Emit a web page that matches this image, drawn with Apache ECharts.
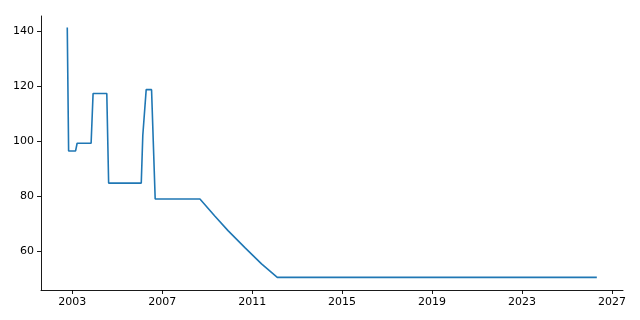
<!DOCTYPE html>
<html>
<head>
<meta charset="utf-8">
<script src="https://cdn.jsdelivr.net/npm/echarts@6/dist/echarts.min.js"></script>
<style>
html,body{margin:0;padding:0;background:#fff;}
#chart{width:640px;height:320px;}
</style>
</head>
<body>
<div id="chart"></div>
<script>
// Data (breakpoints of the line)
var dates = ['2002-10-12','2002-11-03','2003-02-24','2003-03-21','2003-11-03','2003-12-05',
             '2004-07-15','2004-08-14','2006-01-26','2006-02-20','2006-03-21','2006-04-16',
             '2006-07-12','2006-09-09','2008-09-05','2009-05-04','2009-12-05','2010-09-05',
             '2011-06-02','2012-02-13','2026-04-30'];
var values = [141.3, 96.4, 96.4, 99.2, 99.2, 117.3,
              117.3, 84.7, 84.7, 102.1, 102.1, 118.7,
              118.7, 78.9, 78.9, 72.7, 67.4, 61.2,
              55.3, 50.4, 50.4];
var xTickYears = [2003, 2007, 2011, 2015, 2019, 2023, 2027];
var yTicks = [60, 80, 100, 120, 140];

function dateToDecYear(s){
  var t = Date.parse(s+'T00:00:00Z');
  var yr = new Date(t).getUTCFullYear();
  var a = Date.UTC(yr,0,1), b = Date.UTC(yr+1,0,1);
  return yr + (t-a)/(b-a);
}
var seriesData = dates.map(function(d,i){ return [dateToDecYear(d), values[i]]; });

var chart = echarts.init(document.getElementById('chart'), null, {renderer:'canvas'});
var font = 'DejaVu Sans';
chart.setOption({
  animation:false,
  backgroundColor:'#ffffff',
  grid:{left:41, right:17, top:16, bottom:30, containLabel:false},
  xAxis:{
    type:'value',
    min:2001.61,
    max:2027.49,
    axisLine:{show:true, onZero:false, lineStyle:{color:'#000', width:0.9}},
    axisTick:{show:true, length:4, lineStyle:{color:'#000', width:0.9}, customValues:xTickYears},
    axisLabel:{color:'#000', fontFamily:font, fontSize:11, margin:7, customValues:xTickYears,
      formatter:function(v){ return String(Math.round(v)); }},
    splitLine:{show:false}
  },
  yAxis:{
    type:'value',
    min:45.8,
    max:145.5,
    axisLine:{show:true, onZero:false, lineStyle:{color:'#000', width:0.9}},
    axisTick:{show:true, length:4, lineStyle:{color:'#000', width:0.9}, customValues:yTicks},
    axisLabel:{color:'#000', fontFamily:font, fontSize:11, margin:7, customValues:yTicks},
    splitLine:{show:false}
  },
  series:[{
    type:'line',
    data:seriesData,
    showSymbol:false,
    symbol:'none',
    lineStyle:{color:'#1f77b4', width:1.6},
    itemStyle:{color:'#1f77b4'}
  }]
});
</script>
</body>
</html>
